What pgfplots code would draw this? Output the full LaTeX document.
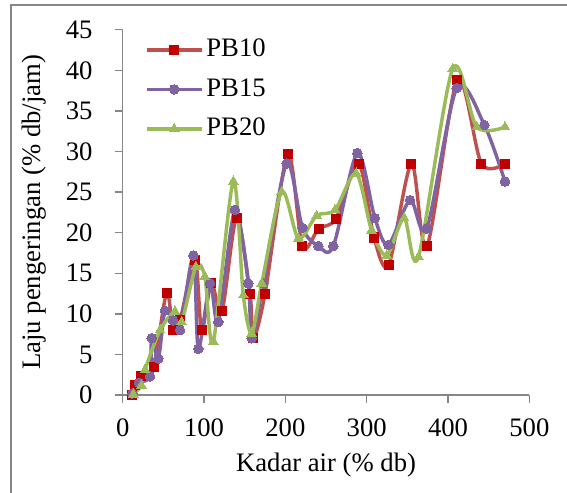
\documentclass[border=0pt]{standalone}
\usepackage{pgfplots}
\pgfplotsset{compat=1.18}
\usepackage{fontspec}
\setmainfont{Liberation Serif}
\definecolor{redline}{HTML}{C0504D}
\definecolor{redmark}{HTML}{C00000}
\definecolor{purp}{HTML}{8064A2}
\definecolor{grn}{HTML}{9BBB59}
\definecolor{axgray}{HTML}{868686}
\begin{document}
\fontsize{20pt}{24pt}\selectfont
\begin{tikzpicture}
\useasboundingbox (-92pt,-72.75pt) rectangle (333.2pt,296.25pt);
\draw[axgray,line width=1.2pt] (-83.8pt,-80pt) -- (-83.8pt,292.5pt) -- (340pt,292.5pt);
\begin{axis}[
  scale only axis,
  width=305pt, height=274pt,
  xmin=0, xmax=500, ymin=0, ymax=45,
  xtick={0,100,...,500},
  ytick={0,5,...,45},
  axis x line=bottom, axis y line=left,
  axis line style={-, axgray, line width=1pt},
  tick style={axgray, line width=1pt},
  tick align=outside, major tick length=6pt,
  tick label style={font=\fontsize{20pt}{24pt}\selectfont},
  label style={font=\fontsize{20pt}{24pt}\selectfont},
  /pgf/number format/assume math mode=true,
  xticklabel style={anchor=center, yshift=-18.5pt, at={(axis cs:\tick,0)}},
  yticklabel style={anchor=east, xshift=-9.8pt, at={(axis cs:0,\tick)}},
  xlabel={Kadar air (\% db)},
  ylabel={Laju pengeringan (\% db/jam)},
  xlabel style={at={(axis description cs:0.5,-0.1916)}, anchor=center},
  ylabel style={at={(axis description cs:-0.218,0.5)}, anchor=center, rotate=0},
  clip=false,
  legend style={at={(0.045,0.99)}, anchor=north west, draw=none, fill=none,
    row sep=9.4pt, font=\fontsize{20pt}{24pt}\selectfont},
  legend cell align=left,
  legend image code/.code={\draw[mark repeat=2,mark phase=2] plot coordinates {(0cm,0cm)(0.72cm,0cm)(1.45cm,0cm)};},
  every axis plot/.append style={smooth, tension=0.5, line width=2.6pt},
]
\addplot[color=redline, mark=square*, mark size=3.4pt,
  mark options={fill=redmark, draw=redmark, line width=0pt}] coordinates {
  (12,0) (15,1.2) (22,2.3) (38,3.5) (54,12.6) (62,8.0) (70.5,9.2)
  (89,16.6) (97,8.0) (109,13.75) (122,10.3) (140,21.8) (156.5,12.5)
  (160.6,7.0) (175,12.5) (203,29.7) (221,18.3) (241,20.5) (262,21.7)
  (290,28.5) (309,19.4) (327,16.0) (355,28.5) (374,18.3) (411.5,38.8)
  (441,28.5) (470,28.5)
};
\addplot[color=purp, mark=*, mark size=3.6pt,
  mark options={fill=purp, draw=purp, line width=0pt}] coordinates {
  (12,0.2) (20,1.5) (33.6,2.3) (35.7,7.0) (43.8,4.5) (52,10.4) (62,9.2)
  (70.5,8.0) (87,17.2) (93,5.7) (107.4,13.75) (117.6,9.0) (138,22.8)
  (154.5,13.75) (158.6,7.0) (173,13.75) (201.6,28.5) (221,20.6)
  (240.6,18.35) (259,18.35) (288.5,29.8) (310,21.8) (326.6,18.5)
  (353.3,24.0) (373.8,20.5) (410.7,37.8) (444.7,33.25) (470,26.3)
};
\addplot[color=grn, mark=triangle*, mark size=4.2pt,
  mark options={fill=grn, draw=grn, line width=0pt}] coordinates {
  (13,0.1) (23,1.2) (27.4,3.1) (46,8.0) (64.3,10.3) (72.5,9.0) (90,15.8)
  (101,14.6) (111.4,6.6) (136,26.3) (148.3,12.3) (158.6,7.6) (171,13.75)
  (195.5,25.0) (216,19.3) (238.5,22.1) (261,22.8) (287,27.3) (306,20.3)
  (324.6,17.2) (346,21.8) (363.5,17.0) (405.8,40.2) (435.3,33.0) (470,33.0)
};
\legend{PB10, PB15, PB20}
\end{axis}
\end{tikzpicture}
\end{document}
